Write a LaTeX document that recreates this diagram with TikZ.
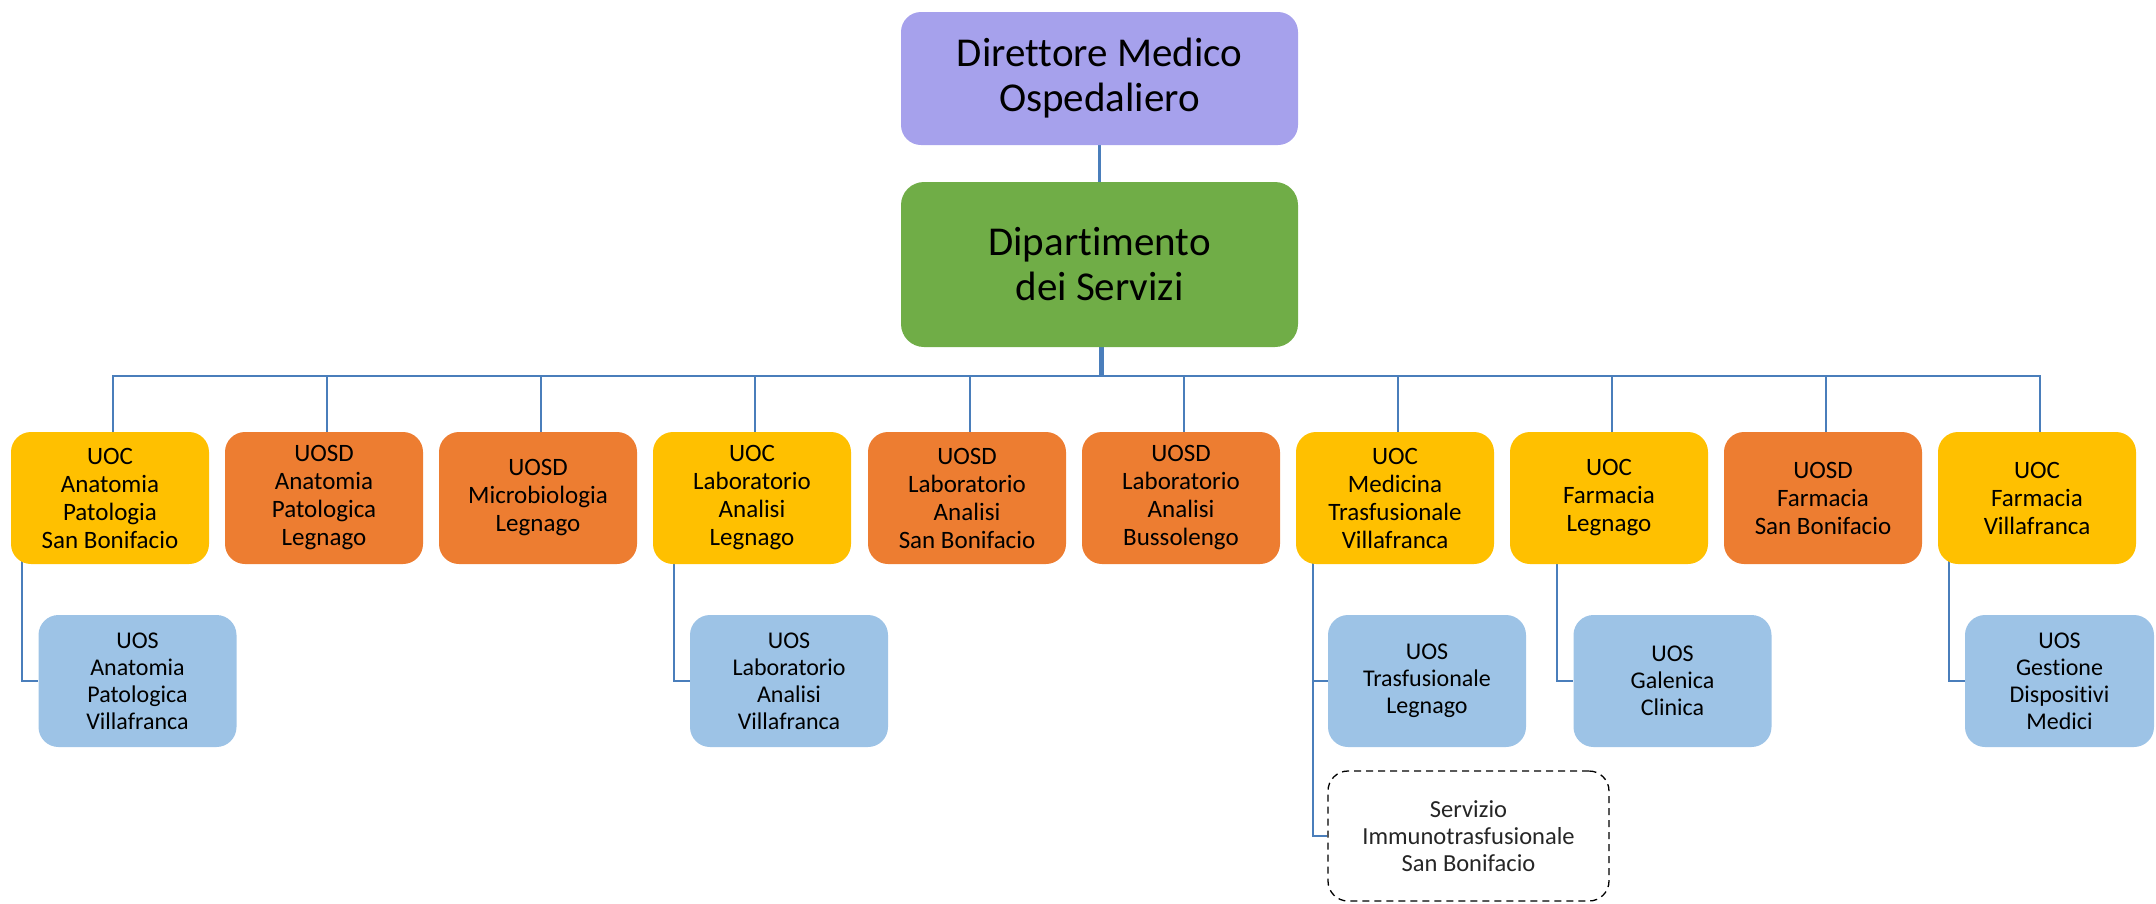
\documentclass[tikz,border=0pt]{standalone}
\usepackage{fontspec}
\setmainfont{Carlito}[Ligatures=NoCommon]
\usetikzlibrary{backgrounds}
\definecolor{lav}{HTML}{A6A1EC}
\definecolor{grn}{HTML}{70AD47}
\definecolor{yel}{HTML}{FFC000}
\definecolor{org}{HTML}{ED7D31}
\definecolor{lblue}{HTML}{9DC3E6}
\definecolor{lnc}{HTML}{4A7EBB}
\begin{document}
\begin{tikzpicture}[x=1pt,y=-1pt,
  box/.style={rounded corners=20pt, align=center, inner sep=0pt, text=black},
  head/.style={box, minimum width=397pt, font=\fontsize{41}{45}\selectfont},
  unit/.style={box, minimum width=198pt, minimum height=132pt, font=\fontsize{25}{28}\selectfont},
  uoc/.style={unit, fill=yel},
  uosd/.style={unit, fill=org},
  uos/.style={unit, fill=lblue, font=\fontsize{24}{27}\selectfont},
  dbox/.style={box, draw=black, dash pattern=on 7pt off 5pt, line width=1.3pt, fill=white,
    minimum width=281pt, minimum height=130pt, font=\fontsize{24.5}{27}\selectfont, text=black!85},
  conn/.style={draw=lnc, line width=2pt},
  trunk/.style={draw=lnc, line width=5.5pt}
]
\useasboundingbox (0,0) rectangle (2156,903);
\node[head, fill=lav, minimum height=133pt] (dir) at (1099.5,78.5) {Direttore Medico\\Ospedaliero};
\node[head, fill=grn, minimum height=165pt, rounded corners=23pt] (dip) at (1099.5,264.5) {Dipartimento\\dei Servizi};

\node[uoc]  (b1)  at (110,498)  {UOC\\Anatomia\\Patologia\\San Bonifacio};
\node[uosd] (b2)  at (324,498)  {UOSD\\Anatomia\\Patologica\\Legnago};
\node[uosd] (b3)  at (538,498)  {UOSD\\Microbiologia\\Legnago};
\node[uoc]  (b4)  at (752,498)  {UOC\\Laboratorio\\Analisi\\Legnago};
\node[uosd] (b5)  at (967,498)  {UOSD\\Laboratorio\\Analisi\\San Bonifacio};
\node[uosd] (b6)  at (1181,498) {UOSD\\Laboratorio\\Analisi\\Bussolengo};
\node[uoc]  (b7)  at (1395,498) {UOC\\Medicina\\Trasfusionale\\Villafranca};
\node[uoc]  (b8)  at (1609,498) {UOC\\Farmacia\\Legnago};
\node[uosd] (b9)  at (1823,498) {UOSD\\Farmacia\\San Bonifacio};
\node[uoc]  (b10) at (2037,498) {UOC\\Farmacia\\Villafranca};

\node[uos] (s1) at (137.5,681) {UOS\\Anatomia\\Patologica\\Villafranca};
\node[uos] (s4) at (789,681)   {UOS\\Laboratorio\\Analisi\\Villafranca};
\node[uos] (s7) at (1427,681)  {UOS\\Trasfusionale\\Legnago};
\node[uos] (s8) at (1672.5,681) {UOS\\Galenica\\Clinica};
\node[uos, minimum width=189pt] (s10) at (2059.5,681) {UOS\\Gestione\\Dispositivi\\Medici};
\node[dbox] (sv) at (1468.5,836) {Servizio\\Immunotrasfusionale\\San Bonifacio};

\begin{scope}[on background layer]
  \draw[conn, line width=2.5pt] (dir.south) -- (dip.north);
  \draw[trunk] ([xshift=2pt]dip.south) -- ++(0,29) coordinate (hub);
  \foreach \b in {b1,b2,b3,b4,b5,b6,b7,b8,b9,b10}
    \draw[conn] ([xshift=3pt]\b.north) |- (hub);
  \draw[conn] (b1.west) ++(11,0) |- (s1.west);
  \draw[conn] (b4.west) ++(21,0) |- (s4.west);
  \draw[conn] (b7.west) ++(17,0) |- (s7.west);
  \draw[conn] (b7.west) ++(17,0) |- (sv.west);
  \draw[conn] (b8.west) ++(47,0) |- (s8.west);
  \draw[conn] (b10.west) ++(11,0) |- (s10.west);
\end{scope}
\end{tikzpicture}
\end{document}
